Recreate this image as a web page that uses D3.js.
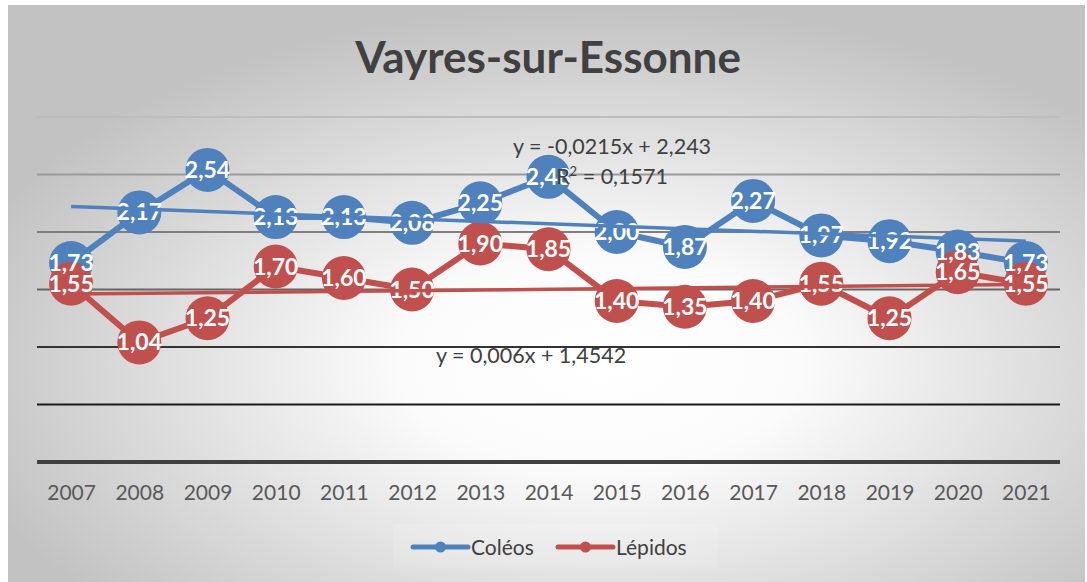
<!DOCTYPE html>
<html>
<head>
<meta charset="utf-8">
<script src="https://cdn.jsdelivr.net/npm/d3@7"></script>
<style>
body{margin:0;background:#fff;}
svg{display:block;}
</style>
</head>
<body>
<svg id="chart" width="1087" height="582"></svg>
<script>
var years=["2007","2008","2009","2010","2011","2012","2013","2014","2015","2016","2017","2018","2019","2020","2021"];
var coleos=[1.73,2.17,2.54,2.13,2.13,2.08,2.25,2.48,2.00,1.87,2.27,1.97,1.92,1.83,1.73];
var lepidos=[1.55,1.04,1.25,1.70,1.60,1.50,1.90,1.85,1.40,1.35,1.40,1.55,1.25,1.65,1.55];
var yTicks=[0,0.5,1,1.5,2,2.5,3];
var gridColors=["#404040","#1a1a1a","#333333","#666666","#7f7f7f","#9a9a9a","#bdbdbd"];
// trend lines y = a*x + b (x = 1..15)
var trendColeos={a:-0.0215,b:2.243};
var trendLepidos={a:0.006,b:1.4542};

var svg=d3.select("#chart");
var fmt=function(v){return d3.format(".2f")(v).replace(".",",");};

// background
var defs=svg.append("defs");
var grad=defs.append("radialGradient").attr("id","bg")
	.attr("cx","0.55").attr("cy","0.62").attr("r","0.62");
grad.append("stop").attr("offset","0").attr("stop-color","#ffffff");
grad.append("stop").attr("offset","0.3").attr("stop-color","#fbfbfb");
grad.append("stop").attr("offset","1").attr("stop-color","#c2c2c2");
svg.append("rect").attr("x",8).attr("y",5).attr("width",1077).attr("height",577)
	.attr("fill","url(#bg)");

var x=d3.scalePoint().domain(years).range([37,1060]).padding(0.5);
var y=d3.scaleLinear().domain([0,3]).range([462,117]);

// gridlines
svg.append("g").selectAll("line").data(yTicks.slice(1)).enter().append("line")
	.attr("x1",37).attr("x2",1060)
	.attr("y1",function(d){return y(d);}).attr("y2",function(d){return y(d);})
	.attr("stroke",function(d,i){return gridColors[i+1];})
	.attr("stroke-width",2);

// x axis
var xAxis=d3.axisBottom(x).tickSize(0).tickPadding(23);
var gx=svg.append("g").attr("transform","translate(0,"+y(0)+")").call(xAxis);
gx.select(".domain").attr("stroke","#404040").attr("stroke-width",4).attr("d","M37,0H1060");
gx.selectAll("text").attr("font-family","Lato").attr("font-size",21).attr("fill","#595959");

// title
svg.append("text").attr("x",548).attr("y",73).attr("text-anchor","middle")
	.attr("font-family","Lato").attr("font-weight","bold").attr("font-size",44)
	.attr("fill","#404040").text("Vayres-sur-Essonne");

var series=[{name:"Coléos",values:coleos,color:"#4f81bd"},{name:"Lépidos",values:lepidos,color:"#c0504d"}];
var line=d3.line().x(function(d,i){return x(years[i]);}).y(function(d){return y(d);});

series.forEach(function(s){
	svg.append("path").attr("d",line(s.values)).attr("fill","none")
		.attr("stroke",s.color).attr("stroke-width",6).attr("stroke-linejoin","round");
	svg.append("g").selectAll("circle").data(s.values).enter().append("circle")
		.attr("cx",function(d,i){return x(years[i]);})
		.attr("cy",function(d){return y(d);})
		.attr("r",22).attr("fill",s.color);
});
series.forEach(function(s){
	svg.append("g").selectAll("text").data(s.values).enter().append("text")
		.attr("x",function(d,i){return x(years[i]);})
		.attr("y",function(d){return y(d)+8;})
		.attr("text-anchor","middle").attr("font-family","Lato").attr("font-weight","bold")
		.attr("font-size",23).attr("fill","#fff").text(fmt);
});

// trend lines
[[trendColeos,"#4f81bd"],[trendLepidos,"#c0504d"]].forEach(function(t){
	svg.append("line")
		.attr("x1",x(years[0])).attr("x2",x(years[years.length-1]))
		.attr("y1",y(t[0].a*1+t[0].b)).attr("y2",y(t[0].a*years.length+t[0].b))
		.attr("stroke",t[1]).attr("stroke-width",3.5);
});

var eq=svg.append("g").attr("font-family","Lato").attr("font-size",21.5).attr("fill","#404040")
	.attr("text-anchor","middle");
eq.append("text").attr("x",612).attr("y",154).text("y = -0,0215x + 2,243");
var r2=eq.append("text").attr("x",612).attr("y",184);
r2.append("tspan").text("R");
r2.append("tspan").attr("font-size",13).attr("dy",-8).text("2");
r2.append("tspan").attr("dy",8).text(" = 0,1571");
eq.append("text").attr("x",531).attr("y",363).text("y = 0,006x + 1,4542");

// legend
svg.append("rect").attr("x",393).attr("y",524).attr("width",324).attr("height",44)
	.attr("fill","#ffffff").attr("opacity",0.12);
var leg=svg.append("g").selectAll("g").data(series).enter().append("g")
	.attr("transform",function(d,i){return "translate("+(413+i*145)+",547)";});
leg.append("line").attr("x1",0).attr("x2",55).attr("stroke",function(d){return d.color;})
	.attr("stroke-width",5).attr("stroke-linecap","round");
leg.append("circle").attr("cx",27.5).attr("r",5.5).attr("fill",function(d){return d.color;});
leg.append("text").attr("x",58).attr("y",8).attr("font-family","Lato").attr("font-size",21)
	.attr("fill","#404040").text(function(d){return d.name;});
</script>
</body>
</html>
